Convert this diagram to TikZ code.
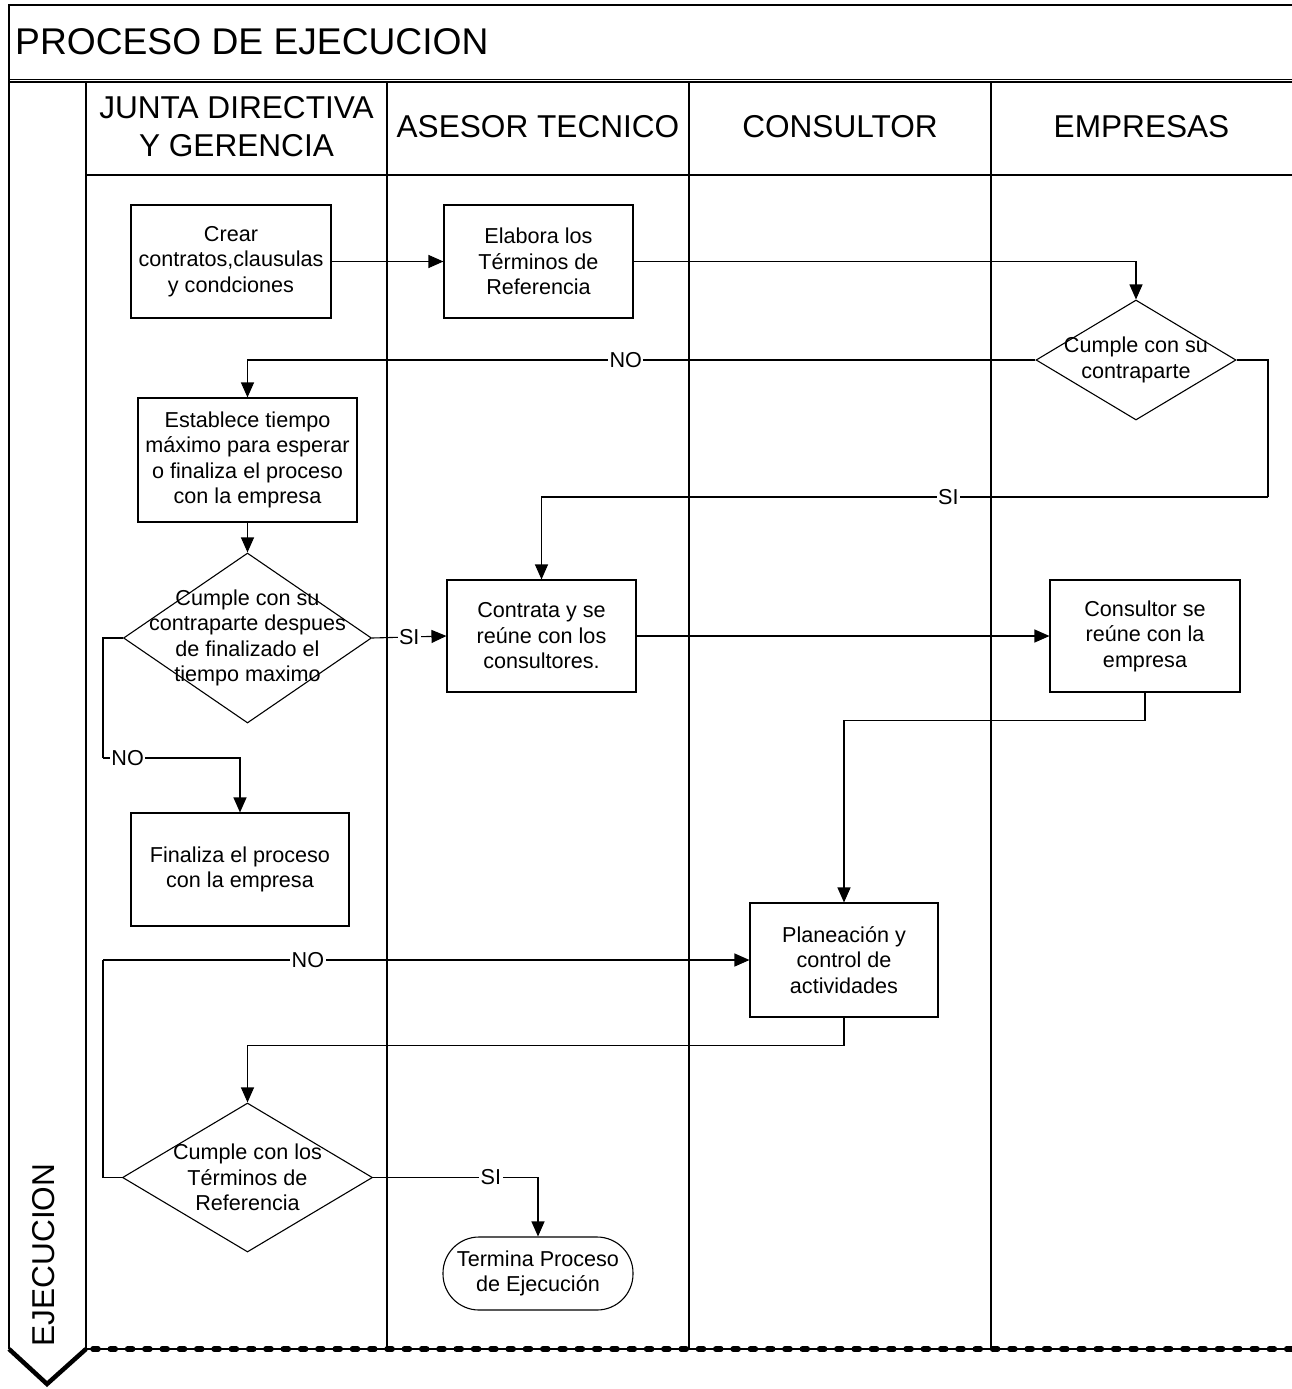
\documentclass[tikz,border=0pt]{standalone}
\usepackage{fontspec}
\setmainfont{Liberation Sans}
\usetikzlibrary{shapes.geometric,arrows.meta}
\begin{document}
\begin{tikzpicture}[x=1pt,y=-1pt,
  txt/.style={font=\fontsize{21.6}{25.5}\selectfont},
  proc/.style={draw, line width=1.1pt, align=center, inner sep=0pt, txt},
  dec/.style={draw, diamond, line width=1.1pt, inner sep=0pt},
  dectext/.style={txt, align=center, inner sep=0pt},
  flow/.style={line width=1.1pt, -{Triangle[length=15pt,width=13pt]}},
  link/.style={line width=1.1pt},
  tag/.style={fill=white, inner sep=1.5pt, txt},
  lane/.style={line width=1.2pt},
  hdr/.style={font=\fontsize{31.6}{38}\selectfont, align=center, inner sep=0pt},
]
\useasboundingbox (0,0) rectangle (1292,1389);

% ---- pool frame ----
\draw[lane] (1292,5) -- (9,5) -- (9,1349);
\draw[lane] (9,79.5) -- (1292,79.5);
\draw[lane] (9,82) -- (1292,82);
\draw[lane] (86,82) -- (86,1349);
\draw[lane] (86,175) -- (1292,175);
\draw[lane] (387,82) -- (387,1349);
\draw[lane] (689,82) -- (689,1349);
\draw[lane] (991,82) -- (991,1349);

% phase boundary and its marker
\draw[line width=1.2pt] (86,1349) -- (1292,1349);
\draw[line width=5.5pt, line cap=round, dash pattern=on 5pt off 12.3pt] (93,1349) -- (1292,1349);
\draw[line width=4.5pt, line join=miter] (9,1349) -- (47,1384) -- (86,1349);

% ---- titles ----
\node[anchor=west, inner sep=0pt, font=\fontsize{37.2}{44}\selectfont] (title) at (15,42) {PROCESO DE EJECUCION};
\node[hdr] (h1) at (236.5,127) {JUNTA DIRECTIVA\\Y GERENCIA};
\node[hdr] (h2) at (538,127) {ASESOR TECNICO};
\node[hdr] (h3) at (840,127) {CONSULTOR};
\node[hdr] (h4) at (1141.5,127) {EMPRESAS};
\node[hdr, rotate=90] (phase) at (44,1255) {EJECUCION};

% ---- activities ----
\node[proc, minimum width=200pt, minimum height=113pt] (crear) at (231,261.5) {Crear\\contratos,clausulas\\y condciones};
\node[proc, minimum width=189pt, minimum height=113pt] (elabora) at (538.5,261.5) {Elabora los\\Términos de\\Referencia};
\node[dec, minimum width=200pt, minimum height=120pt] (dec1) at (1136,360) {};
\node[dectext] at (dec1) {Cumple con su\\contraparte};
\node[proc, minimum width=219pt, minimum height=124pt] (establece) at (247.5,460) {Establece tiempo\\máximo para esperar\\o finaliza el proceso\\con la empresa};
\node[dec, minimum width=248pt, minimum height=170pt] (dec2) at (247.5,638) {};
\node[dectext] at (dec2) {Cumple con su\\contraparte despues\\de finalizado el\\tiempo maximo};
\node[proc, minimum width=189pt, minimum height=112pt] (contrata) at (541.5,636) {Contrata y se\\reúne con los\\consultores.};
\node[proc, minimum width=190pt, minimum height=112pt] (consultor) at (1145,636) {Consultor se\\reúne con la\\empresa};
\node[proc, minimum width=218pt, minimum height=113pt] (finaliza) at (240,869.5) {Finaliza el proceso\\con la empresa};
\node[proc, minimum width=188pt, minimum height=114pt] (planea) at (844,960) {Planeación y\\control de\\actividades};
\node[dec, minimum width=250pt, minimum height=149pt] (dec3) at (247.5,1177.5) {};
\node[dectext] at (dec3) {Cumple con los\\Términos de\\Referencia};
\node[proc, rounded corners=36pt, minimum width=190pt, minimum height=73pt] (termina) at (538,1273.5) {Termina Proceso\\de Ejecución};

% bend points
\coordinate (r1) at (1268,497);
\coordinate (l1) at (103,758);
\coordinate (l2) at (103,960);

% ---- flows ----
\draw[flow] (crear) -- (elabora);
\draw[flow] (elabora.east) -| (dec1.north);
\draw[flow] (dec1.west) -| node[tag, pos=0.26] {NO} (establece.north);
\draw[link] (dec1.east) -| (r1);
\draw[flow] (r1) -| node[tag, pos=0.22] {SI} (contrata.north);
\draw[flow] (establece.south) -- (dec2.north);
\draw[flow] (dec2.east) -- node[tag] {SI} (contrata.west);
\draw[flow] (contrata.east) -- (consultor.west);
\draw[link] (dec2.west) -| (l1);
\draw[flow] (l1) -| node[tag, pos=0.09] {NO} (finaliza.north);
\draw[flow] (consultor.south) -- ++(0,28) -| (planea.north);
\draw[flow] (planea.south) -- ++(0,28) -| (dec3.north);
\draw[link] (dec3.west) -| (l2);
\draw[flow] (l2) -- node[tag, pos=0.317] {NO} (planea.west);
\draw[flow] (dec3.east) -| node[tag, pos=0.357] {SI} (termina.north);
\end{tikzpicture}
\end{document}
